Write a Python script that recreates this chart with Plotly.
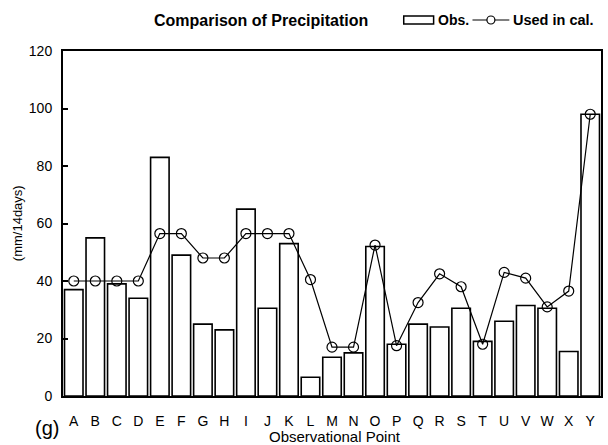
import plotly.graph_objects as go

points = list("ABCDEFGHIJKLMNOPQRSTUVWXY")
obs = [37, 55, 39, 34, 83, 49, 25, 23, 65, 30.5, 53, 6.5, 13.5, 15, 52, 18, 25, 24, 30.5, 19, 26, 31.5, 30.5, 15.5, 98]
used = [40, 40, 40, 40, 56.5, 56.5, 48, 48, 56.5, 56.5, 56.5, 40.5, 17, 17, 52.5, 17.5, 32.5, 42.5, 38, 18, 43, 41, 31, 36.5, 98]
y_ticks = [0, 20, 40, 60, 80, 100, 120]

FONT = "Liberation Sans, Arial, sans-serif"

# plot area geometry (pixels) used only to place text/legend decorations
L, R, T, B, W, H = 63, 5, 51, 49, 608, 445
PW, PH = W - L - R, H - T - B


def px(x):
    return (x - L) / PW


def py(y):
    return (H - B - y) / PH


fig = go.Figure()
fig.add_trace(go.Bar(
    x=points, y=obs, name="Obs.",
    marker=dict(color="white", line=dict(color="black", width=1.6)),
    width=0.86, showlegend=False,
))
fig.add_trace(go.Scatter(
    x=points, y=used, name="Used in cal.", mode="lines+markers",
    line=dict(color="black", width=1.2),
    marker=dict(symbol="circle-open", size=10, color="black", line=dict(width=1.2)),
    showlegend=False,
))

shapes = [
    # legend: Obs. rectangle
    dict(type="rect", xref="paper", yref="paper", x0=px(405), x1=px(435), y0=py(24), y1=py(16),
         line=dict(color="black", width=1.5), fillcolor="white"),
    # legend: Used in cal. line + circle
    dict(type="line", xref="paper", yref="paper", x0=px(474), x1=px(511), y0=py(20), y1=py(20),
         line=dict(color="black", width=1.2)),
    dict(type="circle", xref="paper", yref="paper", x0=px(488.5), x1=px(496.5), y0=py(24), y1=py(16),
         line=dict(color="black", width=1.2), fillcolor="white"),
]

fig.update_layout(
    width=W, height=H,
    margin=dict(l=L, r=R, t=T, b=B),
    paper_bgcolor="white", plot_bgcolor="white",
    font=dict(family=FONT, size=14, color="black"),
    bargap=0.14,
    xaxis=dict(range=[-0.5, 24.5], showgrid=False, zeroline=False,
               showline=True, linecolor="black", linewidth=2, mirror=True,
               ticks="", tickfont=dict(size=14), ticklabelstandoff=11, fixedrange=True),
    yaxis=dict(range=[0, 120], tickvals=y_ticks, showgrid=False, zeroline=False,
               showline=True, linecolor="black", linewidth=2, mirror=True,
               ticks="inside", ticklen=5, tickwidth=1.5, tickcolor="black",
               tickfont=dict(size=14), ticklabelstandoff=6, fixedrange=True),
    shapes=shapes,
    annotations=[
        dict(text="<b>Comparison of Precipitation</b>", xref="paper", yref="paper",
             x=px(262), y=py(20), xanchor="center", yanchor="middle", showarrow=False,
             font=dict(size=16)),
        dict(text="<b>Obs.</b>", xref="paper", yref="paper", x=px(437), y=py(20),
             xanchor="left", yanchor="middle", showarrow=False, font=dict(size=14)),
        dict(text="<b>Used in cal.</b>", xref="paper", yref="paper", x=px(513), y=py(20),
             xanchor="left", yanchor="middle", showarrow=False, font=dict(size=14.5)),
        dict(text="(mm/14days)", xref="paper", yref="paper", x=px(17), y=py(223),
             textangle=-90, xanchor="center", yanchor="middle", showarrow=False,
             font=dict(size=13)),
        dict(text="Observational Point", xref="paper", yref="paper", x=px(336), y=py(437),
             xanchor="center", yanchor="middle", showarrow=False, font=dict(size=15)),
        dict(text="(g)", xref="paper", yref="paper", x=px(47), y=py(428),
             xanchor="center", yanchor="middle", showarrow=False, font=dict(size=20)),
    ],
)

fig.write_html("out.html")
